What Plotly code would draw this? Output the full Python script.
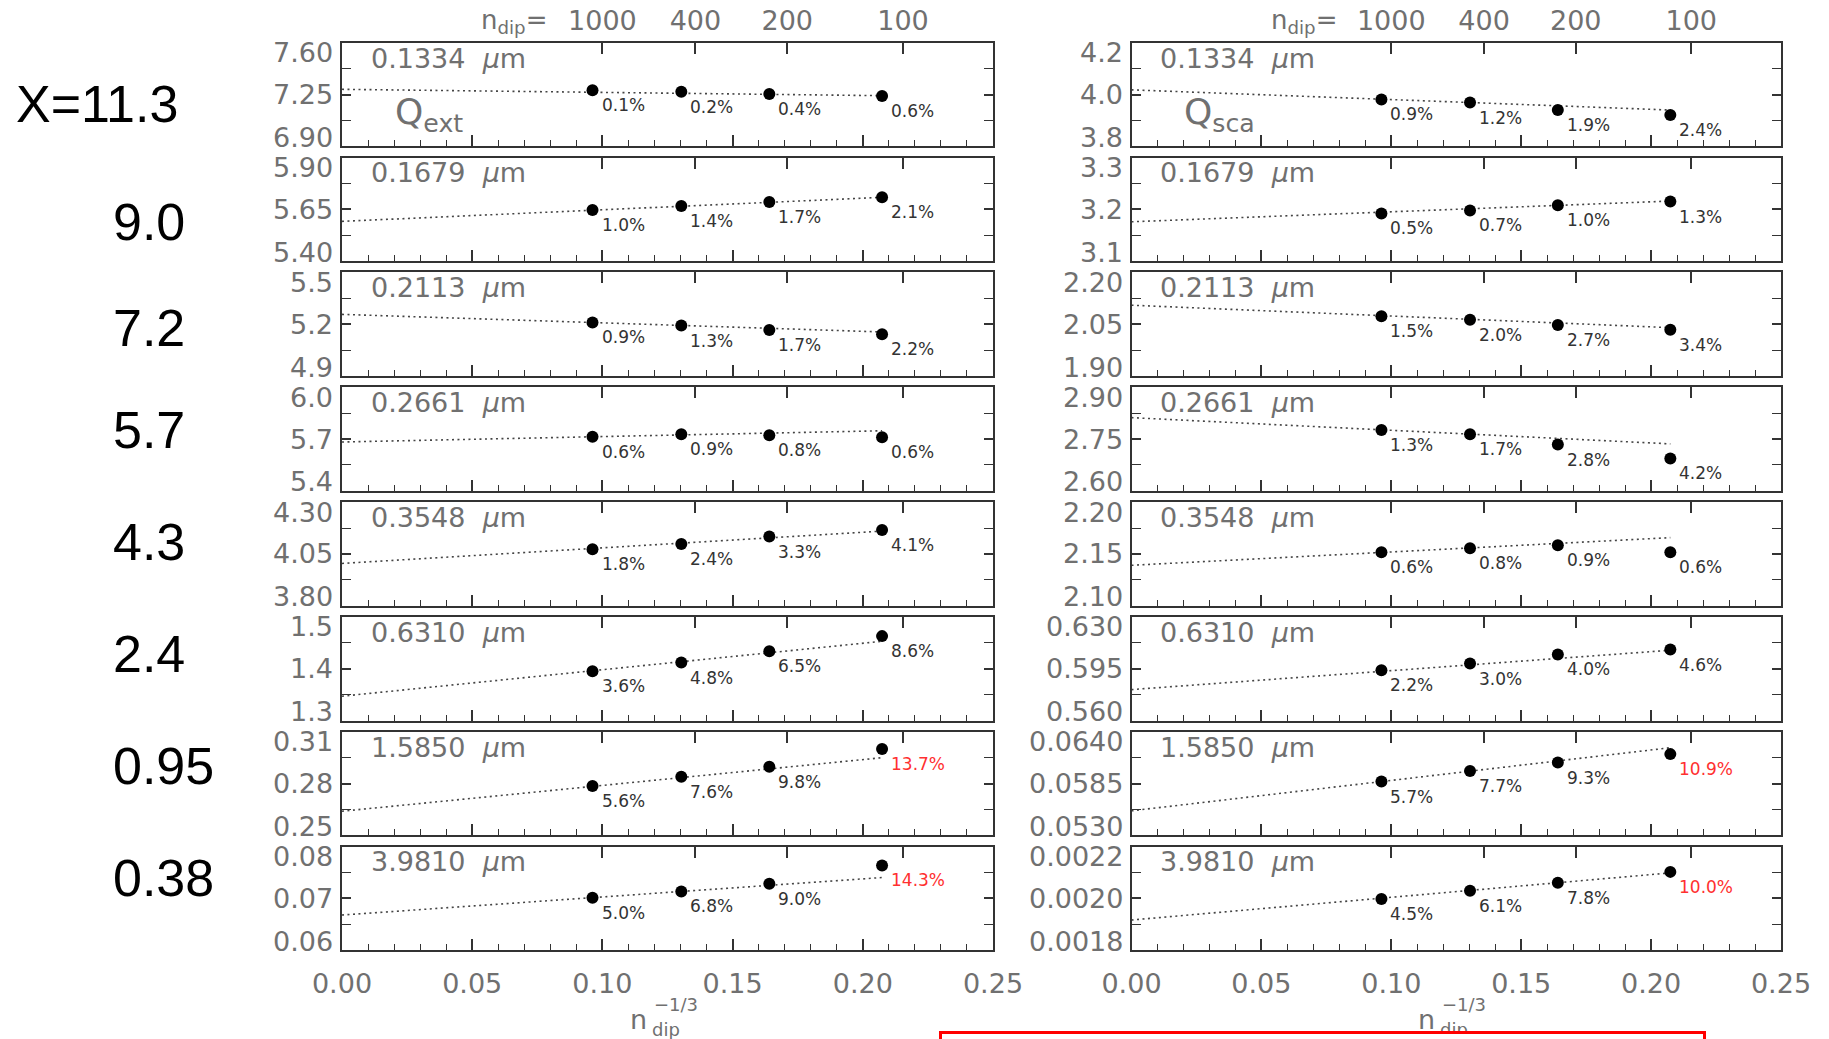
import plotly.graph_objects as go

W, H = 1829, 1039

# ---------------------------------------------------------------- data
n_dip_ticks = [1000, 400, 200, 100]
x_inv = [0.0962, 0.1303, 0.1641, 0.2074]          # n_dip^(-1/3) of the four grids

size_param = ["X=11.3", "9.0", "7.2", "5.7", "4.3", "2.4", "0.95", "0.38"]
wavelength = ["0.1334", "0.1679", "0.2113", "0.2661",
              "0.3548", "0.6310", "1.5850", "3.9810"]

# extinction efficiency per wavelength (rows) at the four dipole counts
q_ext = [
    [7.278, 7.268, 7.254, 7.240],
    [5.647, 5.666, 5.686, 5.708],
    [5.210, 5.192, 5.167, 5.142],
    [5.713, 5.728, 5.722, 5.710],
    [4.072, 4.098, 4.134, 4.165],
    [1.395, 1.412, 1.434, 1.463],
    [0.2786, 0.2840, 0.2898, 0.3000],
    [0.07013, 0.07135, 0.07282, 0.07638],
]
# linear extrapolation: value at n_dip -> infinity and at the coarsest grid
q_ext_fit0 = [7.285, 5.592, 5.257, 5.683, 4.004, 1.347, 0.2640, 0.0668]
q_ext_fit_end = [7.242, 5.708, 5.155, 5.748, 4.160, 1.453, 0.2950, 0.07404]
q_ext_err = [
    ["0.1%", "0.2%", "0.4%", "0.6%"],
    ["1.0%", "1.4%", "1.7%", "2.1%"],
    ["0.9%", "1.3%", "1.7%", "2.2%"],
    ["0.6%", "0.9%", "0.8%", "0.6%"],
    ["1.8%", "2.4%", "3.3%", "4.1%"],
    ["3.6%", "4.8%", "6.5%", "8.6%"],
    ["5.6%", "7.6%", "9.8%", "13.7%"],
    ["5.0%", "6.8%", "9.0%", "14.3%"],
]
q_ext_ticks = [
    ["6.90", "7.25", "7.60"], ["5.40", "5.65", "5.90"], ["4.9", "5.2", "5.5"],
    ["5.4", "5.7", "6.0"], ["3.80", "4.05", "4.30"], ["1.3", "1.4", "1.5"],
    ["0.25", "0.28", "0.31"], ["0.06", "0.07", "0.08"],
]

# scattering efficiency
q_sca = [
    [3.981, 3.969, 3.940, 3.921],
    [3.192, 3.198, 3.208, 3.215],
    [2.073, 2.063, 2.048, 2.034],
    [2.776, 2.764, 2.734, 2.694],
    [2.1515, 2.1555, 2.1583, 2.1515],
    [0.5940, 0.5985, 0.6047, 0.6080],
    [0.05872, 0.05984, 0.06074, 0.06163],
    [0.0019975, 0.0020295, 0.0020603, 0.0021026],
]
q_sca_fit0 = [4.018, 3.176, 2.105, 2.812, 2.139, 0.5809, 0.05561, 0.0019167]
q_sca_fit_end = [3.940, 3.216, 2.040, 2.736, 2.1657, 0.6075, 0.06231, 0.0020987]
q_sca_err = [
    ["0.9%", "1.2%", "1.9%", "2.4%"],
    ["0.5%", "0.7%", "1.0%", "1.3%"],
    ["1.5%", "2.0%", "2.7%", "3.4%"],
    ["1.3%", "1.7%", "2.8%", "4.2%"],
    ["0.6%", "0.8%", "0.9%", "0.6%"],
    ["2.2%", "3.0%", "4.0%", "4.6%"],
    ["5.7%", "7.7%", "9.3%", "10.9%"],
    ["4.5%", "6.1%", "7.8%", "10.0%"],
]
q_sca_ticks = [
    ["3.8", "4.0", "4.2"], ["3.1", "3.2", "3.3"], ["1.90", "2.05", "2.20"],
    ["2.60", "2.75", "2.90"], ["2.10", "2.15", "2.20"], ["0.560", "0.595", "0.630"],
    ["0.0530", "0.0585", "0.0640"], ["0.0018", "0.0020", "0.0022"],
]

columns = [
    dict(q=q_ext, fit0=q_ext_fit0, fit_end=q_ext_fit_end, err=q_ext_err,
         ticks=q_ext_ticks, sym="ext"),
    dict(q=q_sca, fit0=q_sca_fit0, fit_end=q_sca_fit_end, err=q_sca_err,
         ticks=q_sca_ticks, sym="sca"),
]

# ---------------------------------------------------------------- layout geometry (px)
panel_top0, panel_pitch, panel_h = 42.7, 114.85, 103.6
col_px = [(342.0, 993.0), (1131.5, 1781.0)]
row_label_y = [104, 222, 328, 430, 542, 654, 766, 878]
# y labels: bottom one nudged up, top one nudged down so they stay inside the frame
ylabel_shift = [9, 0, -10]

THIN = "DejaVu Sans, sans-serif"
GRAY = "#707070"
AXC = "#333333"
tick_font = dict(family=THIN, size=27, color=GRAY)


def px_x(v):
    return v / W


def px_y(v):
    return 1 - v / H


fig = go.Figure()
layout = dict(
    template="none",
    width=W, height=H, margin=dict(l=0, r=0, t=0, b=0, autoexpand=False),
    paper_bgcolor="white", plot_bgcolor="white", showlegend=False,
)
annotations = []

for r in range(8):
    top = panel_top0 + r * panel_pitch
    ydom = [px_y(top + panel_h), px_y(top)]
    for c, col in enumerate(columns):
        p = r * 2 + c + 1
        q = p + 16
        xs = "" if p == 1 else str(p)
        xn, yn, xo = "x" + xs, "y" + xs, "x" + str(q)
        xdom = [px_x(col_px[c][0]), px_x(col_px[c][1])]

        tt = col["ticks"][r]
        lo, hi = float(tt[0]), float(tt[-1])

        layout["xaxis" + xs] = dict(
            domain=xdom, anchor=yn, range=[0, 0.25], automargin=False,
            tickmode="linear", tick0=0, dtick=0.05, tickformat=".2f",
            showticklabels=(r == 7), tickfont=tick_font, ticklabelstandoff=8,
            ticks="inside", ticklen=11, tickwidth=1.5, tickcolor=AXC,
            minor=dict(tickmode="linear", tick0=0, dtick=0.01, ticks="inside",
                       ticklen=6, tickwidth=1.2, tickcolor=AXC, showgrid=False),
            showline=True, linecolor=AXC, linewidth=2, mirror=True,
            showgrid=False, zeroline=False,
        )
        layout["yaxis" + xs] = dict(
            domain=ydom, anchor=xn, range=[lo, hi], automargin=False,
            tickmode="array", tickvals=[float(t) for t in tt],
            showticklabels=False,
            ticks="inside", ticklen=9, tickwidth=1.5, tickcolor=AXC,
            minor=dict(tickmode="linear", tick0=lo, dtick=(hi - lo) / 4,
                       ticks="inside", ticklen=5, tickwidth=1.2, tickcolor=AXC,
                       showgrid=False),
            showline=True, linecolor=AXC, linewidth=2, mirror="allticks",
            showgrid=False, zeroline=False,
        )
        # y value labels, kept within the panel height
        for t, dy in zip(tt, ylabel_shift):
            annotations.append(dict(
                x=0, y=float(t), xref=xn + " domain", yref=yn, text=t,
                showarrow=False, xanchor="right", yanchor="middle",
                xshift=-7, yshift=dy, font=tick_font))
        # top axis marking the dipole counts
        layout["xaxis" + str(q)] = dict(
            overlaying=xn, anchor=yn, side="top", range=[0, 0.25],
            automargin=False,
            tickmode="array", tickvals=[n ** (-1.0 / 3.0) for n in n_dip_ticks],
            ticktext=[str(n) for n in n_dip_ticks],
            showticklabels=(r == 0), tickfont=tick_font, ticklabelstandoff=6,
            ticks="inside", ticklen=11, tickwidth=1.5, tickcolor=AXC,
            showline=False, showgrid=False, zeroline=False,
        )

        fig.add_trace(go.Scatter(
            x=[0], y=[lo], xaxis=xo, yaxis=yn, mode="markers",
            marker=dict(opacity=0), hoverinfo="skip"))
        # extrapolation line
        fig.add_trace(go.Scatter(
            x=[0, x_inv[-1]], y=[col["fit0"][r], col["fit_end"][r]],
            xaxis=xn, yaxis=yn, mode="lines",
            line=dict(color="#444444", width=1.6, dash="2px,3.5px"),
            hoverinfo="skip"))
        # computed efficiencies
        fig.add_trace(go.Scatter(
            x=x_inv, y=col["q"][r], xaxis=xn, yaxis=yn, mode="markers",
            marker=dict(color="black", size=12, line=dict(width=0))))

        for xv, yv, lab in zip(x_inv, col["q"][r], col["err"][r]):
            big = float(lab.rstrip("%")) >= 10
            annotations.append(dict(
                x=xv, y=yv, xref=xn, yref=yn, text=lab, showarrow=False,
                xanchor="left", yanchor="middle", xshift=7, yshift=-15,
                font=dict(family=THIN, size=17,
                          color="#ff3030" if big else "#333333")))

        annotations.append(dict(
            x=0.041, y=0.852, xref=xn + " domain", yref=yn + " domain",
            text=wavelength[r] + "  <i>\u03bc</i>m", showarrow=False,
            xanchor="left", yanchor="middle",
            font=dict(family=THIN, size=27, color=GRAY)))

        if r == 0:
            annotations.append(dict(
                x=0.078, y=0.31, xref=xn + " domain", yref=yn + " domain",
                text="Q<sub>" + col["sym"] + "</sub>", showarrow=False,
                xanchor="left", yanchor="middle",
                font=dict(family=THIN, size=36, color=GRAY)))

# size-parameter labels down the left side
for r, lab in enumerate(size_param):
    annotations.append(dict(
        x=px_x(14 if r == 0 else 111), y=px_y(row_label_y[r]),
        xref="paper", yref="paper", text=lab, showarrow=False,
        xanchor="left", yanchor="middle",
        font=dict(family="Liberation Sans, Arial, sans-serif", size=52,
                  color="black")))

for c in range(2):
    cx = (col_px[c][0] + col_px[c][1]) / 2
    # "n_dip=" in front of the top-axis labels
    annotations.append(dict(
        x=px_x(col_px[c][0] + 137), y=px_y(21), xref="paper", yref="paper",
        text="n<sub>dip</sub>=", showarrow=False, xanchor="left",
        yanchor="middle", font=dict(family=THIN, size=26, color=GRAY)))
    # bottom axis title n_dip^(-1/3)
    nr = cx - 19
    annotations.append(dict(
        x=px_x(nr), y=px_y(1019), xref="paper", yref="paper", text="n",
        showarrow=False, xanchor="right", yanchor="middle",
        font=dict(family=THIN, size=27, color=GRAY)))
    annotations.append(dict(
        x=px_x(nr + 3), y=px_y(1004), xref="paper", yref="paper", text="\u22121/3",
        showarrow=False, xanchor="left", yanchor="middle",
        font=dict(family=THIN, size=18, color=GRAY)))
    annotations.append(dict(
        x=px_x(nr + 1), y=px_y(1029), xref="paper", yref="paper", text="dip",
        showarrow=False, xanchor="left", yanchor="middle",
        font=dict(family=THIN, size=18, color=GRAY)))

# red framed box along the bottom edge
annotations.append(dict(
    x=px_x(939), y=px_y(1030.5), xref="paper", yref="paper", text=" ",
    showarrow=False, xanchor="left", yanchor="top", width=761, height=30,
    bgcolor="white", bordercolor="#ff0000", borderwidth=3, borderpad=0))

layout["annotations"] = annotations
fig.update_layout(**layout)
fig.write_html("out.html")
